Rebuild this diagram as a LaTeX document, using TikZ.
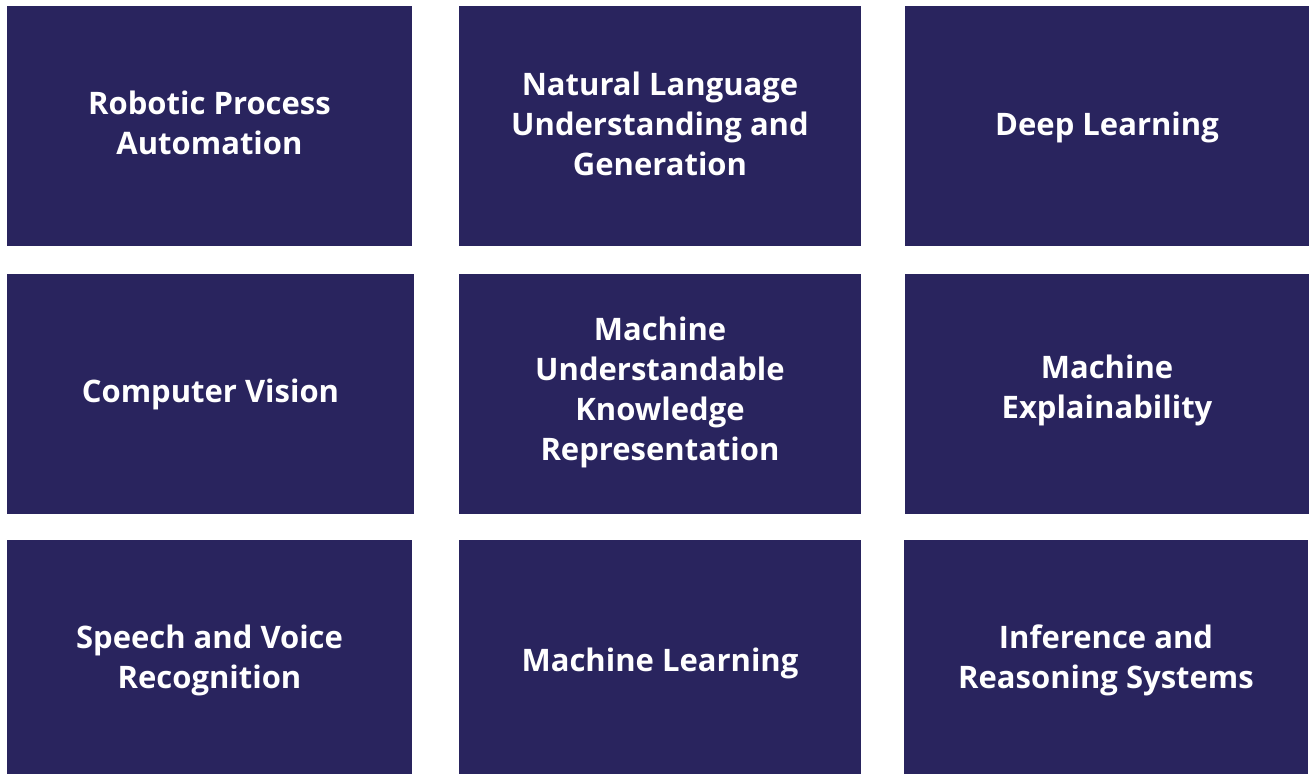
\documentclass[tikz,border=0pt]{standalone}
\usepackage{fontspec}
\setmainfont{Open Sans}
\definecolor{navy}{HTML}{29245E}
\begin{document}
\begin{tikzpicture}[x=1pt,y=-1pt,
  tile/.style={fill=navy,draw=none,inner sep=0pt},
  lbl/.style={text=white,align=center,font=\fontsize{31}{40}\selectfont\bfseries,inner sep=0pt}]
\useasboundingbox (0,0) rectangle (1310,774);
\fill[white] (0,0) rectangle (1310,774);
% row 1
\path[tile] (7,6) rectangle (412,246);
\path[tile] (459,6) rectangle (861,246);
\path[tile] (905,6) rectangle (1309,246);
% row 2
\path[tile] (7,274) rectangle (414,514);
\path[tile] (459,274) rectangle (861,514);
\path[tile] (905,274) rectangle (1309,514);
% row 3
\path[tile] (7,540) rectangle (412,774);
\path[tile] (459,540) rectangle (861,774);
\path[tile] (904,540) rectangle (1308,774);
% labels
\node[lbl] (t1) at (209.5,122.5) {Robotic Process\\Automation};
\node[lbl] (t2) at (660,124) {Natural Language\\Understanding and\\Generation};
\node[lbl] (t3) at (1107,127) {Deep Learning};
\node[lbl] (t4) at (210.5,394) {Computer Vision};
\node[lbl] (t5) at (660,392.5) {Machine\\Understandable\\Knowledge\\Representation};
\node[lbl] (t6) at (1107,390) {Machine\\Explainability};
\node[lbl] (t7) at (209.5,660) {Speech and Voice\\Recognition};
\node[lbl] (t8) at (660,663) {Machine Learning};
\node[lbl] (t9) at (1106,660) {Inference and\\Reasoning Systems};
\end{tikzpicture}
\end{document}
